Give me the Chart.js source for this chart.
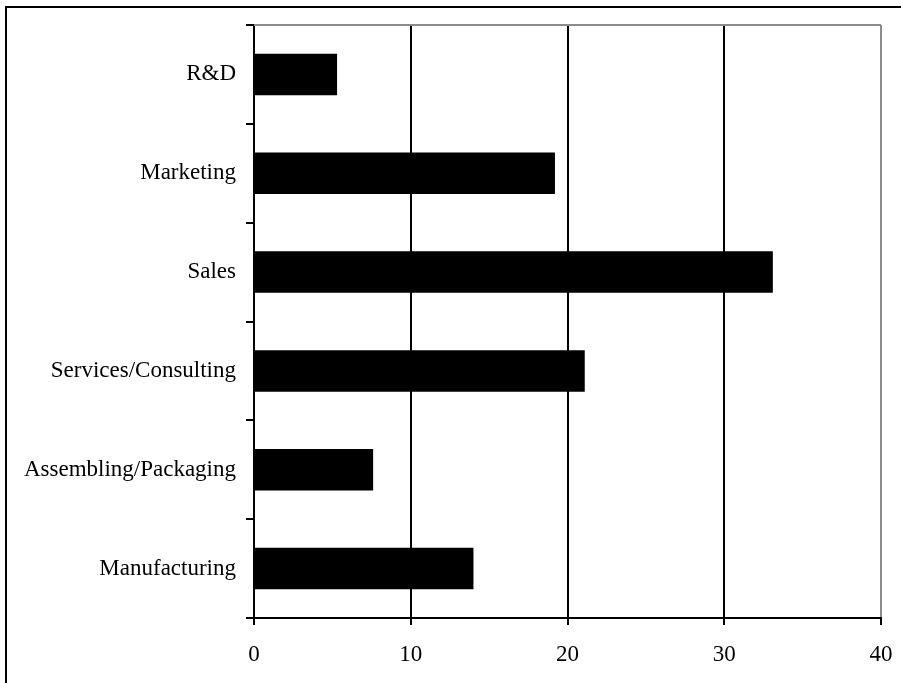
<!DOCTYPE html>
<html>
<head>
<meta charset="utf-8">
<script src="https://cdn.jsdelivr.net/npm/chart.js@4/dist/chart.umd.min.js"></script>
<style>
  html, body { margin: 0; padding: 0; background: #fff; }
  #frame {
    position: absolute; left: 5px; top: 6px; width: 1000px; height: 1000px;
    border-left: 2px solid #000; border-top: 2px solid #000;
  }
  #wrap { position: absolute; left: 0; top: 0; width: 901px; height: 683px; overflow: hidden; }
</style>
</head>
<body>
<div id="wrap">
  <div id="frame"></div>
  <canvas id="deptChart"></canvas>
</div>
<script>
// Chart data
const categories = ['R&D', 'Marketing', 'Sales', 'Services/Consulting', 'Assembling/Packaging', 'Manufacturing'];
const values = [5.3, 19.2, 33.1, 21.1, 7.6, 14.0];
const xTicks = [0, 10, 20, 30, 40];

const font = { family: '"Liberation Serif", "Times New Roman", serif', size: 23 };

// gray top edge of the plot area
const plotEdge = {
    id: 'plotEdge',
    beforeDatasetsDraw(chart) {
        const { ctx, chartArea } = chart;
        ctx.save();
        ctx.strokeStyle = '#8c8c8c';
        ctx.lineWidth = 2;
        ctx.beginPath();
        ctx.moveTo(chartArea.left, chartArea.top);
        ctx.lineTo(chartArea.right, chartArea.top);
        ctx.stroke();
        ctx.restore();
    }
};

new Chart(document.getElementById('deptChart'), {
    type: 'bar',
    data: {
        labels: categories,
        datasets: [{
            data: values,
            backgroundColor: '#000',
            borderWidth: 0,
            barPercentage: 0.42,
            categoryPercentage: 1
        }]
    },
    options: {
        indexAxis: 'y',
        responsive: true,
        maintainAspectRatio: false,
        animation: false,
        layout: { padding: { top: 25, right: 20, left: 0, bottom: 0 } },
        plugins: {
            legend: { display: false },
            tooltip: { enabled: false }
        },
        scales: {
            x: {
                min: xTicks[0],
                max: xTicks[xTicks.length - 1],
                afterBuildTicks: scale => { scale.ticks = xTicks.map(v => ({ value: v })); },
                afterFit: scale => {
                    scale.height = 65;
                    scale.paddingLeft = 0;
                    scale.paddingRight = 0;
                },
                border: { color: '#000', width: 2 },
                grid: {
                    color: ctx => ctx.tick && ctx.tick.value === 40 ? '#8c8c8c' : '#000',
                    tickColor: '#000',
                    lineWidth: 2,
                    tickLength: 7
                },
                ticks: { color: '#000', font: font, padding: 16, maxRotation: 0 }
            },
            y: {
                afterFit: scale => { scale.width = 254; },
                border: { color: '#000', width: 2 },
                grid: {
                    drawOnChartArea: false,
                    color: '#000',
                    lineWidth: 2,
                    tickLength: 8,
                    offset: true
                },
                ticks: { color: '#000', font: font, padding: 10 }
            }
        }
    },
    plugins: [plotEdge]
});
</script>
</body>
</html>
